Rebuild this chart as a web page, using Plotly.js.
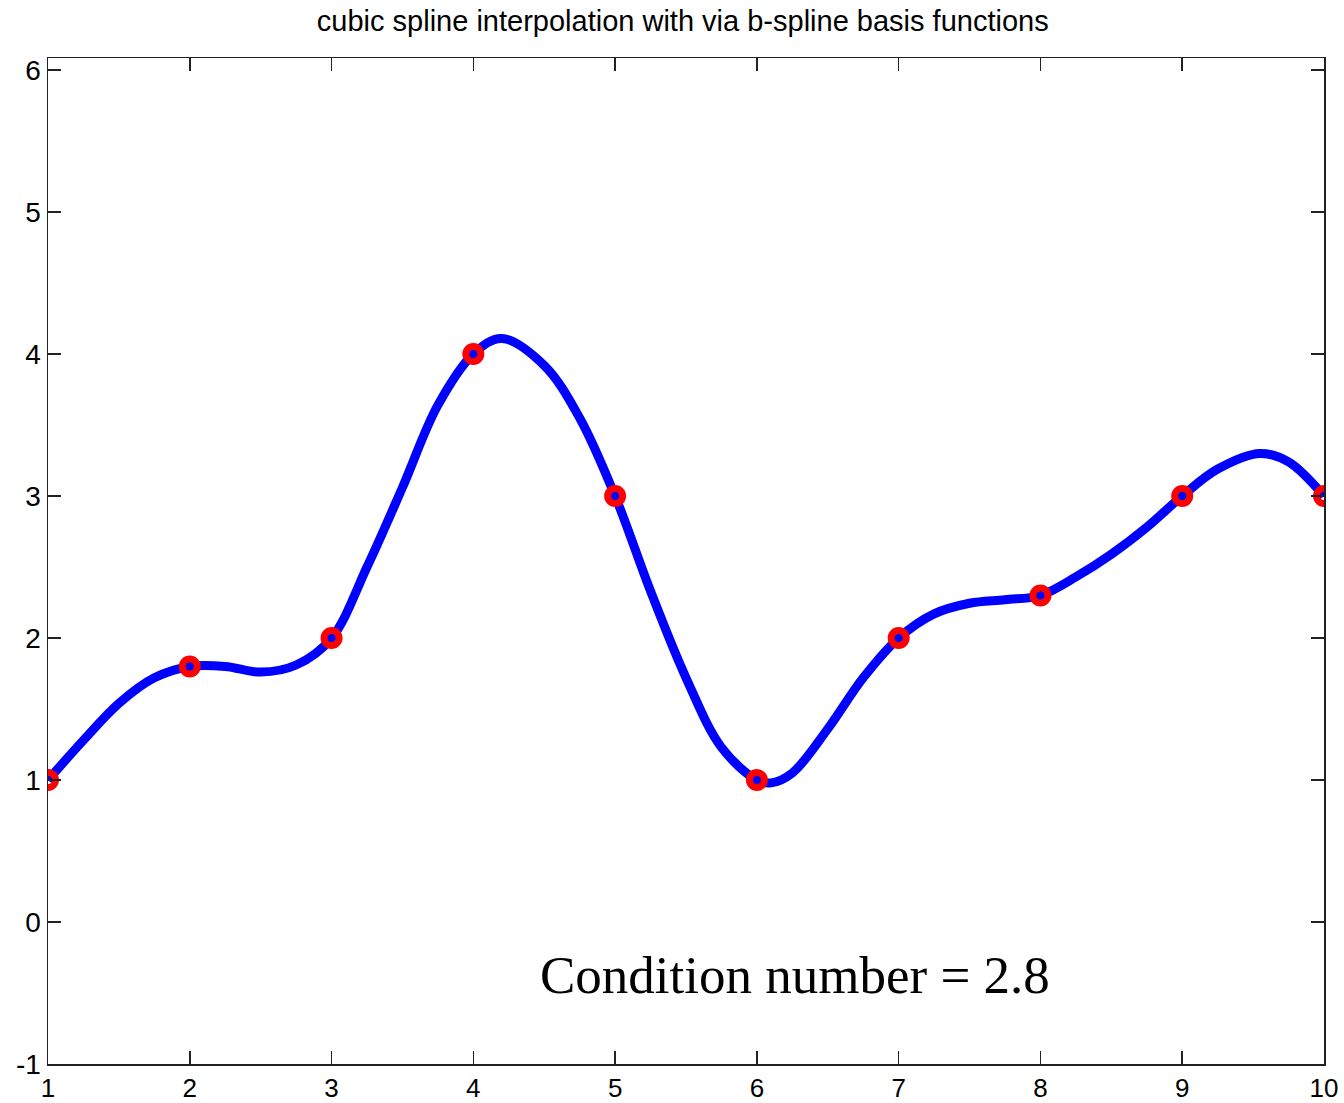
<!DOCTYPE html>
<html>
<head>
<meta charset="utf-8">
<script src="https://cdn.plot.ly/plotly-3.0.1.min.js"></script>
<style>html,body{margin:0;padding:0;background:#fff;}#chart{width:1344px;height:1103px;}</style>
</head>
<body>
<div id="chart"></div>
<script>
// Interpolation nodes
var nodeX = [1, 2, 3, 4, 5, 6, 7, 8, 9, 10];
var nodeY = [1, 1.8, 2, 4, 3, 1, 2, 2.3, 3, 3];

// Spline curve
var curveX = [1, 1.25, 1.5, 1.75, 2, 2.25, 2.5, 2.75, 3, 3.25, 3.5, 3.75, 4, 4.2, 4.5, 4.75, 5, 5.25, 5.5, 5.75, 6, 6.1, 6.25, 6.5, 6.75, 7, 7.25, 7.5, 7.75, 8, 8.25, 8.5, 8.75, 9, 9.25, 9.55, 9.75, 10];
var curveY = [1, 1.28, 1.54, 1.72, 1.8, 1.8, 1.76, 1.81, 2, 2.5, 3.06, 3.64, 4, 4.11, 3.92, 3.55, 3, 2.33, 1.72, 1.23, 1, 0.98, 1.05, 1.36, 1.72, 2, 2.17, 2.245, 2.27, 2.3, 2.43, 2.59, 2.78, 3, 3.19, 3.3, 3.24, 3];

var xTickVals = [1, 2, 3, 4, 5, 6, 7, 8, 9, 10];
var xTickText = ['1', '2', '3', '4', '5', '6', '7', '8', '9', '10'];
var yTickVals = [-1, 0, 1, 2, 3, 4, 5, 6];
var yTickText = ['-1', '0', '1', '2', '3', '4', '5', '6'];

var titleText = 'cubic spline interpolation with via b-spline basis functions';
var noteText = 'Condition number = 2.8';

var traces = [
  {
    x: curveX, y: curveY, type: 'scatter', mode: 'lines',
    line: {color: '#0000ff', width: 9, shape: 'spline', smoothing: 1},
    hoverinfo: 'skip', showlegend: false
  },
  {
    x: nodeX, y: nodeY, type: 'scatter', mode: 'markers',
    marker: {symbol: 'circle-open', size: 15, color: '#ff0000', line: {color: '#ff0000', width: 7}},
    showlegend: false
  }
];

var axisCommon = {
  showgrid: false, zeroline: false, showline: true, linecolor: '#222', linewidth: 1.5,
  mirror: 'ticks', ticks: 'inside', ticklen: 13, tickwidth: 1.5, tickcolor: '#222',
  tickmode: 'array'
};

var layout = {
  width: 1344, height: 1103,
  paper_bgcolor: '#fff', plot_bgcolor: '#fff',
  margin: {l: 48, r: 20, t: 58, b: 39},
  title: {
    text: titleText, x: 0.508, xanchor: 'center', y: 0.981, yanchor: 'middle',
    font: {family: 'Liberation Sans, Arial, sans-serif', size: 29, color: '#000'}
  },
  xaxis: Object.assign({}, axisCommon, {
    range: [1, 10], tickvals: xTickVals, ticktext: xTickText, ticklabelstandoff: 0,
    tickfont: {family: 'Liberation Sans, Arial, sans-serif', size: 26, color: '#000'}
  }),
  yaxis: Object.assign({}, axisCommon, {
    range: [-1, 6.085], tickvals: yTickVals, ticktext: yTickText,
    tickfont: {family: 'Liberation Sans, Arial, sans-serif', size: 28, color: '#000'}
  }),
  annotations: [{
    x: 6.27, y: -0.37, xref: 'x', yref: 'y', text: noteText, showarrow: false,
    xanchor: 'center', yanchor: 'middle',
    font: {family: 'Liberation Serif, Times New Roman, serif', size: 53, color: '#000'}
  }]
};

Plotly.newPlot('chart', traces, layout, {displayModeBar: false, staticPlot: true});
</script>
</body>
</html>
